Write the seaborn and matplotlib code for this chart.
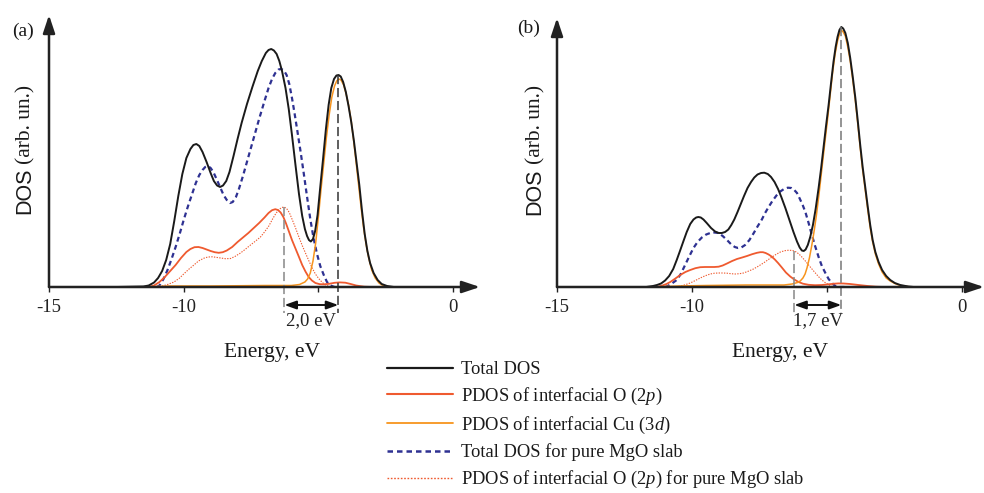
import matplotlib
matplotlib.use("Agg")
import matplotlib.pyplot as plt
import seaborn as sns
import pandas as pd
from matplotlib.lines import Line2D

# ---------------- data ----------------
# Panel (a)
a_total_E = [-12.5, -11.5, -11.3, -11.1, -10.95, -10.8, -10.65, -10.5, -10.35, -10.2, -10.05, -9.9, -9.75,
             -9.64, -9.53, -9.42, -9.3, -9.15, -9.0, -8.88, -8.76, -8.65, -8.54, -8.42, -8.3, -8.15, -8.0,
             -7.85, -7.65, -7.45, -7.25, -7.1, -6.95, -6.85, -6.75, -6.65, -6.55, -6.45, -6.35, -6.22, -6.1,
             -5.98, -5.85, -5.72, -5.6, -5.5, -5.42, -5.35, -5.28, -5.2, -5.12, -5.03, -4.93, -4.83, -4.72,
             -4.62, -4.52, -4.42, -4.33, -4.25, -4.17, -4.08, -3.98, -3.88, -3.78, -3.68, -3.58, -3.48, -3.38,
             -3.28, -3.18, -3.08, -2.95, -2.8, -2.65, -2.45, -2.2, -1.5]
a_total = [0, 0.5, 1.5, 4.5, 9, 16, 27, 43, 66, 91, 113, 129, 138,
           142, 143, 141, 135, 125, 114, 106, 101.5, 100, 101.5, 106, 115, 131, 148,
           164, 183, 200, 216, 226, 234, 237, 238, 236.5, 233, 226, 216, 199, 178,
           152, 122, 93, 71, 58, 51, 47, 45.5, 48, 56, 72, 100, 127, 158,
           182, 199, 208, 211.5, 212, 210.5, 205, 195, 181, 165, 146, 124, 102, 76,
           53, 36, 24, 14, 7, 3, 1, 0, 0]

a_o2p_E = [-11.3, -11.1, -10.9, -10.7, -10.5, -10.3, -10.1, -9.9, -9.75, -9.6, -9.45, -9.3, -9.15, -9.0,
           -8.85, -8.7, -8.55, -8.4, -8.2, -8.0, -7.8, -7.6, -7.4, -7.2, -7.0, -6.85, -6.72, -6.6, -6.5,
           -6.4, -6.3, -6.2, -6.1, -5.98, -5.85, -5.72, -5.6, -5.48, -5.36, -5.24, -5.11, -4.95, -4.8, -4.6,
           -4.4, -4.2, -4.0, -3.8, -3.6, -3.3, -3.0, -2.5]
a_o2p = [0, 1.5, 5, 10, 16, 22, 29, 35, 38, 39.8, 40, 39, 37.5, 36,
         34.8, 34.2, 34.8, 36.5, 40, 45, 49.5, 54, 59, 64, 69.5, 74, 76.8, 77.8, 77,
         74.5, 70, 63.5, 56, 47, 38.5, 30, 22, 15.5, 10, 6.5, 4, 2.8, 2.7, 3.2,
         4.2, 4.6, 4.3, 3, 1.5, 0.3, 0, 0]

a_cu3d_E = [-11.5, -10.5, -9.0, -7.0, -6.0, -5.7, -5.5, -5.4, -5.3, -5.2, -5.1, -5.0, -4.9, -4.8, -4.7,
            -4.6, -4.5, -4.4, -4.32, -4.24, -4.16, -4.06, -3.97, -3.88, -3.78, -3.69, -3.6, -3.51, -3.42,
            -3.32, -3.23, -3.14, -3.02, -2.89, -2.75, -2.58, -2.3, -1.5]
a_cu3d = [0, 1, 1, 1.5, 1.5, 2.5, 5, 8, 14, 26, 44, 70, 98, 124, 150,
          172, 190, 201, 206, 208, 207, 202, 193, 182, 166, 146, 125, 103, 81,
          59, 43, 30, 17, 9, 4, 1, 0, 0]

a_mgo_E = [-11.0, -10.9, -10.75, -10.6, -10.45, -10.3, -10.15, -10.0, -9.85, -9.7, -9.55, -9.42, -9.3, -9.2,
           -9.1, -9.0, -8.9, -8.78, -8.65, -8.52, -8.4, -8.28, -8.18, -8.06, -7.95, -7.8, -7.6, -7.4, -7.2,
           -7.0, -6.85, -6.72, -6.6, -6.48, -6.38, -6.28, -6.18, -6.08, -5.98, -5.88, -5.78, -5.67, -5.55,
           -5.43, -5.3, -5.18, -5.05, -4.93, -4.8, -4.68, -4.55, -4.4]
a_mgo = [0, 1.5, 8, 17, 28, 40, 53, 67, 80, 92, 104, 112, 117, 120,
         121, 119, 115, 108, 100, 92, 87, 84, 85, 90, 98, 111, 130, 149, 168,
         186, 199, 208, 214, 217.5, 218, 216.5, 212, 203, 189, 173, 156, 137, 115,
         92, 68, 49, 33, 21, 12, 5, 1.5, 0]

a_mgo_o2p_E = [-11.0, -10.86, -10.6, -10.36, -10.15, -10.0, -9.8, -9.62, -9.45, -9.25, -9.1, -8.94, -8.8,
               -8.63, -8.45, -8.26, -8.1, -7.89, -7.7, -7.52, -7.33, -7.15, -7.0, -6.84, -6.7, -6.58, -6.46,
               -6.36, -6.27, -6.18, -6.08, -5.98, -5.86, -5.73, -5.6, -5.48, -5.35, -5.23, -5.11, -4.99,
               -4.87, -4.74, -4.6, -4.5, -4.0]
a_mgo_o2p = [0, 0.5, 2.5, 5, 9, 13, 18, 22, 26, 28.8, 30, 30.2, 29.7,
             29, 28.3, 28.5, 30.5, 34, 38, 42, 46, 50, 55, 61, 68, 73.5, 77.5,
             79.5, 80, 78.5, 74.5, 68, 60, 50.5, 41.5, 34, 26, 19, 13, 8.5,
             5, 2, 0.5, 0, 0]

# Panel (b)
b_total_E = [-12.5, -11.7, -11.45, -11.3, -11.15, -11.0, -10.85, -10.7, -10.57, -10.45, -10.32, -10.2, -10.07,
             -9.95, -9.85, -9.77, -9.68, -9.58, -9.46, -9.3, -9.15, -9.02, -8.9, -8.78, -8.66, -8.55, -8.44,
             -8.32, -8.2, -8.08, -7.95, -7.82, -7.7, -7.58, -7.45, -7.33, -7.2, -7.08, -6.95, -6.82, -6.7,
             -6.55, -6.4, -6.25, -6.12, -6.02, -5.94, -5.87, -5.8, -5.72, -5.63, -5.53, -5.43, -5.32, -5.23,
             -5.14, -5.05, -4.95, -4.86, -4.77, -4.69, -4.62, -4.55, -4.48, -4.41, -4.33, -4.24, -4.15, -4.06,
             -3.96, -3.87, -3.78, -3.69, -3.59, -3.5, -3.41, -3.32, -3.22, -3.1, -2.97, -2.82, -2.67, -2.5,
             -2.3, -2.0, -1.8, -1.0]
b_total = [0, 0, 1, 2, 3.5, 6.5, 11, 18, 27, 36, 46, 55, 63,
           67.5, 69.5, 70, 69.5, 67.5, 64, 59, 55.5, 54, 54, 55, 57.5, 62, 67.5,
           75, 83, 91, 99, 105, 109.5, 112.5, 114, 114.3, 113, 110, 105, 98, 90,
           79, 67, 55, 45.5, 39.5, 36.5, 36, 37.5, 42, 50, 62, 78, 99, 118,
           139, 160, 182, 204, 225, 240, 250, 257, 260, 258.5, 254, 244, 229, 211,
           189, 166, 142, 120, 99, 80, 62, 47, 35, 25, 17, 11, 7, 4,
           2, 0.5, 0, 0]

b_o2p_E = [-11.3, -11.1, -10.95, -10.81, -10.62, -10.44, -10.25, -10.07, -9.88, -9.7, -9.52, -9.33, -9.18,
           -9.02, -8.87, -8.71, -8.52, -8.34, -8.15, -7.97, -7.78, -7.6, -7.48, -7.38, -7.28, -7.17, -7.06,
           -6.94, -6.82, -6.68, -6.53, -6.37, -6.22, -6.06, -5.9, -5.69, -5.45, -5.2, -4.95, -4.75, -4.58,
           -4.4, -4.15, -3.84, -3.5, -3.2, -2.9, -2.5]
b_o2p = [0, 1.5, 3, 5, 8.5, 12, 15, 17, 18.8, 19.8, 20, 20, 20,
         20.3, 21.5, 23.5, 26, 28, 29.5, 31, 32.8, 34.2, 34.8, 34.8, 34, 32.5, 30.5,
         27.5, 24, 19.5, 14.5, 10.5, 7.5, 5, 3.3, 2.2, 1.8, 2, 2.7, 3.3, 3.6,
         3.5, 3, 2, 1, 0.3, 0, 0]

b_cu3d_E = [-11.5, -10.5, -9.5, -8.0, -6.6, -6.3, -6.1, -6.0, -5.9, -5.82, -5.75, -5.66, -5.57, -5.48, -5.4,
            -5.3, -5.2, -5.1, -5.0, -4.9, -4.8, -4.71, -4.62, -4.55, -4.48, -4.41, -4.33, -4.24, -4.15, -4.06,
            -3.96, -3.87, -3.78, -3.69, -3.59, -3.5, -3.41, -3.32, -3.22, -3.1, -2.97, -2.82, -2.67, -2.5,
            -2.3, -2.0, -1.8, -1.0]
b_cu3d = [0, 1, 1.5, 2, 2, 3, 4.5, 6, 9, 13, 19, 29, 42, 57, 72,
          94, 118, 142, 165, 190, 215, 233, 246, 253, 257, 255, 251, 240, 226, 208,
          186, 163, 139, 117, 96, 77, 59, 45, 33, 23, 15, 9, 6, 3.5,
          1.5, 0.3, 0, 0]

b_mgo_E = [-11.0, -10.9, -10.75, -10.57, -10.42, -10.26, -10.1, -9.95, -9.8, -9.64, -9.48, -9.33, -9.18, -9.02,
           -8.87, -8.71, -8.55, -8.42, -8.3, -8.18, -8.04, -7.88, -7.73, -7.58, -7.42, -7.3, -7.17, -7.03,
           -6.88, -6.74, -6.6, -6.46, -6.33, -6.22, -6.12, -6.02, -5.91, -5.81, -5.69, -5.57, -5.45, -5.32,
           -5.2, -5.07, -4.95, -4.83, -4.7, -4.6, -4.3]
b_mgo = [0, 1, 3.5, 7, 13, 22, 31, 39, 45, 49.5, 52.5, 54, 54.5, 54,
         51, 47, 42.5, 40, 39, 39.5, 42, 47, 53.5, 60.5, 67.5, 74, 80, 86,
         91.5, 95.5, 98, 99.3, 99, 97, 94, 88.5, 82, 75, 64, 52, 41, 30,
         21, 14, 8, 4, 1, 0, 0]

b_mgo_o2p_E = [-10.6, -10.44, -10.25, -10.07, -9.88, -9.7, -9.52, -9.33, -9.17, -9.02, -8.86, -8.71, -8.56,
               -8.41, -8.25, -8.1, -7.92, -7.73, -7.55, -7.36, -7.15, -6.93, -6.75, -6.58, -6.42, -6.28, -6.15,
               -6.04, -5.94, -5.82, -5.69, -5.56, -5.44, -5.32, -5.2, -5.07, -4.95, -4.85, -4.77, -4.6, -4.3]
b_mgo_o2p = [0, 1, 2.3, 4, 6.5, 9, 11.2, 13, 13.8, 14, 14, 13.8, 13.3,
             13, 13.3, 14, 15.8, 18, 20.8, 24, 28, 32, 34.8, 36.3, 36.8, 36.5, 35,
             32.8, 30, 26.3, 22, 17.8, 14, 10.3, 7, 4.3, 2.3, 1, 0.3, 0, 0]

# Gap markers: peak positions / heights and labels
a_gap_E = [-6.26, -4.26]
a_gap_top = [80, 212]
a_gap_label = "2,0 eV"
b_gap_E = [-6.22, -4.48]
b_gap_top = [36, 260]
b_gap_label = "1,7 eV"

x_ticks = [-15, -10, -5, 0]
x_tick_labels = ["-15", "-10", "", "0"]

series_names = ["Total DOS", "PDOS of interfacial O (2$p$)", "PDOS of interfacial Cu (3$d$)",
                "Total DOS for pure MgO slab", "PDOS of interfacial O (2$p$) for pure MgO slab"]

# ---------------- styling ----------------
sns.set_theme(style="white")
plt.rcParams["font.family"] = ["Liberation Serif", "DejaVu Serif"]
plt.rcParams["mathtext.fontset"] = "custom"
plt.rcParams["mathtext.rm"] = "Liberation Serif"
plt.rcParams["mathtext.it"] = "Liberation Serif:italic"
plt.rcParams["axes.unicode_minus"] = False

C_BLACK = "#1a1a1a"
C_RED = "#ef5a2f"
C_ORANGE = "#f7941d"
C_BLUE = "#2e3192"

styles = [
    dict(color=C_BLACK, lw=1.4, ls="-"),
    dict(color=C_RED, lw=1.3, ls="-"),
    dict(color=C_ORANGE, lw=1.1, ls="-"),
    dict(color=C_BLUE, lw=1.6, ls=(0, (2.2, 1.6))),
    dict(color=C_RED, lw=0.8, ls=(0, (1.2, 1.2))),
]

W, H = 984, 493
fig = plt.figure(figsize=(W / 100, H / 100), dpi=100)


def px_axes(left, right, top, bottom):
    return [left / W, 1 - bottom / H, (right - left) / W, (bottom - top) / H]


ax_a = fig.add_axes(px_axes(49, 480, 15, 287))
ax_b = fig.add_axes(px_axes(557, 984, 18, 287))

panels = [
    (ax_a, [(a_total_E, a_total), (a_o2p_E, a_o2p), (a_cu3d_E, a_cu3d), (a_mgo_E, a_mgo),
            (a_mgo_o2p_E, a_mgo_o2p)], (0, 272), (-15, 1.0), a_gap_E, a_gap_top, a_gap_label,
     ["#888888", "#333333"]),
    (ax_b, [(b_total_E, b_total), (b_o2p_E, b_o2p), (b_cu3d_E, b_cu3d), (b_mgo_E, b_mgo),
            (b_mgo_o2p_E, b_mgo_o2p)], (0, 269), (-15, 0.8), b_gap_E, b_gap_top, b_gap_label,
     ["#888888", "#777777"]),
]

draw_order = [4, 3, 1, 2, 0]
for ax, curves, ylim, xlim, gapE, gapTop, gapLabel, gapColors in panels:
    for i in draw_order:
        E, v = curves[i]
        df = pd.DataFrame({"Energy": E, "DOS": v})
        st = styles[i]
        sns.lineplot(data=df, x="Energy", y="DOS", ax=ax, sort=False, estimator=None,
                     color=st["color"], linewidth=st["lw"], linestyle=st["ls"], zorder=3 + (i == 0))
    ax.set_xlim(*xlim)
    ax.set_ylim(*ylim)
    for s in ax.spines.values():
        s.set_visible(False)
    ax.set_yticks([])
    ax.set_xticks(x_ticks)
    ax.set_xticklabels(x_tick_labels)
    ax.tick_params(axis="x", direction="out", length=3.5, width=1.0, color="#222222",
                   labelsize=13.5, pad=5, bottom=True, labelcolor="#222222")
    ax.set_xlabel("")
    ax.set_ylabel("")
    # axis arrows
    ax.annotate("", xy=(1, 0), xytext=(0, 0), xycoords="axes fraction",
                arrowprops=dict(arrowstyle="-|>,head_length=0.9,head_width=0.3", color="#222222",
                                lw=1.8, mutation_scale=12, shrinkA=0, shrinkB=0), zorder=6)
    ax.annotate("", xy=(0, 1), xytext=(0, 0), xycoords="axes fraction",
                arrowprops=dict(arrowstyle="-|>,head_length=0.9,head_width=0.3", color="#222222",
                                lw=1.8, mutation_scale=12, shrinkA=0, shrinkB=0), zorder=6)
    # gap markers
    for e, t, c in zip(gapE, gapTop, gapColors):
        ax.plot([e, e], [t, -26], color=c, lw=1.1, ls=(0, (6, 2.5)), clip_on=False, zorder=5)
    ax.annotate("", xy=(gapE[1], -18), xytext=(gapE[0], -18), xycoords="data",
                arrowprops=dict(arrowstyle="<|-|>,head_length=0.7,head_width=0.25", color="#111111",
                                lw=1.4, mutation_scale=10, shrinkA=0, shrinkB=0),
                annotation_clip=False)
    ax.text((gapE[0] + gapE[1]) / 2, -34, gapLabel, ha="center", va="center", fontsize=13.5,
            color="#222222", clip_on=False)

# y labels (mixed fonts) and x labels
for xb, yc_dos, yc_arb in [(30, 191, 124), (540, 192, 124)]:
    fig.text(xb / W, 1 - yc_dos / H, "DOS", rotation=90, rotation_mode="anchor", ha="center",
             va="baseline", fontsize=15.5, family=["Liberation Sans", "DejaVu Sans"], color="#1a1a1a")
    fig.text(xb / W, 1 - yc_arb / H, "(arb. un.)", rotation=90, rotation_mode="anchor", ha="center",
             va="baseline", fontsize=15.5, color="#1a1a1a")

fig.text(272 / W, 1 - 352 / H, "Energy, eV", ha="center", va="center", fontsize=15.5, color="#1a1a1a")
fig.text(780 / W, 1 - 352 / H, "Energy, eV", ha="center", va="center", fontsize=15.5, color="#1a1a1a")

fig.text(23 / W, 1 - 31 / H, "(a)", ha="center", va="center", fontsize=14, color="#1a1a1a")
fig.text(529 / W, 1 - 28 / H, "(b)", ha="center", va="center", fontsize=14, color="#1a1a1a")

# legend
handles = [Line2D([0], [0], color=st["color"], lw=st["lw"] + 0.2, ls=st["ls"]) for st in styles]
fig.legend(handles, series_names, loc="upper left", bbox_to_anchor=(387 / W, 1 - 361 / H),
           frameon=False, fontsize=13.3, handlelength=3.55, handletextpad=0.45, labelspacing=0.42,
           borderpad=0, borderaxespad=0, labelcolor="#1a1a1a")

fig.savefig("out.png", dpi=100)
